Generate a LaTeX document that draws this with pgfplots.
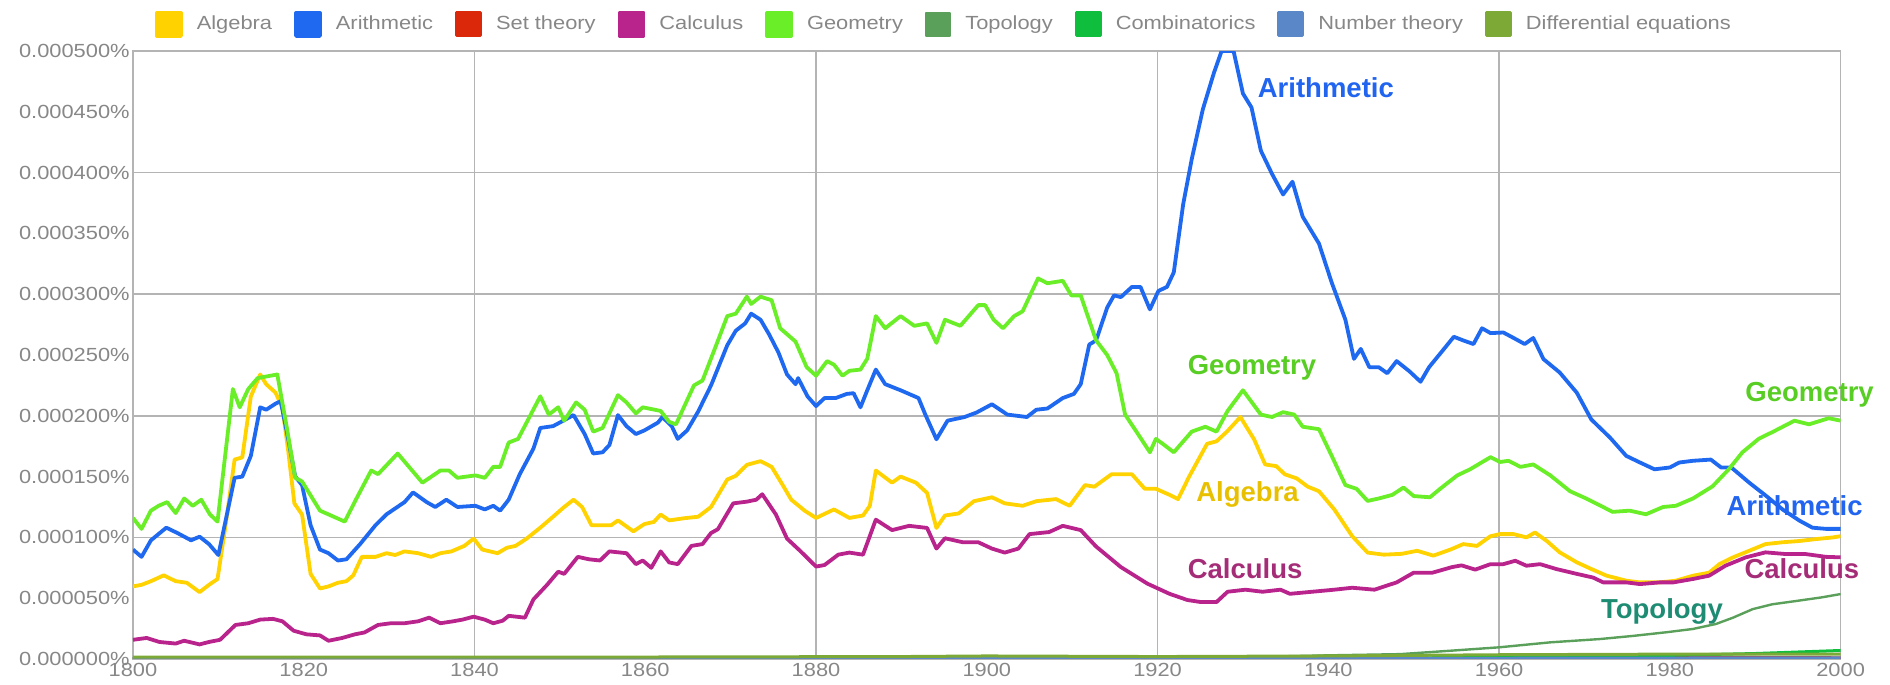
\documentclass[border=0pt]{standalone}
\usepackage{fontspec}
\setmainfont{Liberation Sans}
\newfontfamily\tickfont{Liberation Sans}[FakeStretch=1.15]
\usepackage{pgfplots}
\pgfplotsset{compat=1.18}

\definecolor{calgebra}{RGB}{255,210,0}
\definecolor{carith}{RGB}{30,105,240}
\definecolor{cset}{RGB}{220,40,10}
\definecolor{ccalc}{RGB}{185,35,140}
\definecolor{cgeom}{RGB}{105,238,40}
\definecolor{ctopo}{RGB}{90,160,90}
\definecolor{ccomb}{RGB}{15,190,60}
\definecolor{cnum}{RGB}{90,135,200}
\definecolor{cdiff}{RGB}{125,170,55}
\definecolor{tickgray}{RGB}{135,135,135}
\definecolor{gridgray}{RGB}{180,180,180}
\definecolor{lab-arith}{RGB}{32,100,240}
\definecolor{lab-geom}{RGB}{88,205,35}
\definecolor{lab-alg}{RGB}{232,192,0}
\definecolor{lab-calc}{RGB}{165,45,120}
\definecolor{lab-topo}{RGB}{30,140,115}

\begin{document}
\begin{tikzpicture}
\begin{axis}[
  name=ax, at={(0,0)}, anchor=south west,
  scale only axis, width=853.8pt, height=304pt,
  xmin=1800, xmax=2000, ymin=0, ymax=500,
  clip mode=individual,
  xtick={1800,1820,...,2000},
  ytick={0,50,...,500},
  yticklabels={0.000000\%,0.000050\%,0.000100\%,0.000150\%,0.000200\%,0.000250\%,0.000300\%,0.000350\%,0.000400\%,0.000450\%,0.000500\%},
  /pgf/number format/1000 sep={},
  /pgf/number format/assume math mode=true,
  tick label style={font=\tickfont\fontsize{9.5}{11}\selectfont, text=tickgray},
  yticklabel style={inner sep=0pt, xshift=-1.5pt},
  xticklabel style={inner sep=0pt, yshift=-2pt},
  major tick length=0pt,
  axis line style={draw=gridgray, line width=0.8pt},
  extra x ticks={1840,1880,1920,1960}, extra x tick labels={},
  extra y ticks={100,200,300,400}, extra y tick labels={},
  extra tick style={grid=major, major grid style={draw=gridgray, line width=0.75pt}},
  legend columns=9,
  legend style={at={(axis description cs:0,1)}, anchor=west, xshift=11pt, yshift=13.3pt,
    draw=none, fill=none, inner sep=0pt, outer sep=0pt,
    font=\tickfont\fontsize{9.5}{11}\selectfont, text=tickgray,
    /tikz/every even column/.append style={column sep=11pt},
    /tikz/every odd column/.append style={column sep=7pt},
    nodes={inner sep=0pt}},
  legend image code/.code={\fill[#1] (0pt,-5.75pt) rectangle (12pt,5.75pt);},
  every axis plot/.append style={line join=round},
]
% Algebra
\addplot[color=calgebra, line width=1.9pt] coordinates {
(1800,59.7)(1801,61)(1802.1,64)(1803.6,68.8)(1805.0,64)(1806.3,62.7)(1807.8,55)(1808.9,61)(1809.9,65.8)
(1810.9,112.7)(1811.9,164)(1812.8,165.8)(1813.8,215.8)(1814.9,234)(1815.6,226)(1816.7,219)(1817.5,206.7)
(1818.2,170)(1818.9,128)(1819.8,118.8)(1820.8,70)(1821.9,58)(1822.9,59.7)(1824.0,62.7)(1825.0,64)(1825.8,68.8)
(1826.8,84)(1828.4,84)(1829.7,87)(1830.7,85.5)(1831.8,88.5)(1833.4,87)(1834.9,84)(1836.0,87)(1837.3,88.5)
(1838.8,93)(1839.9,99)(1840.9,90)(1842.7,87)(1843.8,91.5)(1844.8,93)(1846.1,99)(1847.7,108)(1849.2,117)
(1850.5,125)(1851.6,131)(1852.6,125)(1853.7,110)(1854.7,110)(1856.0,110)(1856.8,114)(1858.6,105)(1859.9,111)
(1861.0,112.7)(1861.8,118.8)(1862.8,114)(1864.6,115.8)(1866.2,117)(1867.7,125)(1869.6,147.6)(1870.6,150.6)
(1871.9,159.7)(1873.5,162.7)(1874.8,158)(1876.1,143)(1877.1,131)(1878.7,121.8)(1880.0,116)(1882.1,123)
(1883.9,116)(1885.5,118)(1886.3,126)(1887.0,155)(1888.9,145)(1889.9,150)(1891.7,145)(1893.0,136.6)
(1894.1,107.8)(1895.1,118)(1896.7,119.7)(1898.5,129.8)(1900.6,133)(1902.1,128)(1904.2,126)(1905.8,129.8)
(1908.1,131.5)(1909.7,126)(1911.5,143)(1912.6,141.7)(1914.6,151.9)(1917.0,151.9)(1918.5,140)(1919.8,140)
(1921.4,135)(1922.4,131.5)(1923.7,150)(1925.8,177)(1926.9,179)(1928.2,187.5)(1929.7,199)(1931.3,180.7)
(1932.6,160)(1933.9,158.6)(1934.9,151.9)(1936.3,148.5)(1937.6,141.7)(1938.9,138)(1940.7,123)(1942.8,101)
(1944.6,87.5)(1946.5,85.8)(1948.6,86.5)(1950.4,89)(1952.3,85)(1954.3,90)(1955.8,94.5)(1957.4,93)(1959.0,101)
(1960.1,102.7)(1961.7,102.7)(1963.2,100)(1964.2,104)(1965.6,97)(1967.1,87.7)(1969.1,79.5)(1970.8,74)
(1972.6,68.5)(1974.9,64.4)(1976.5,63)(1978.8,63)(1980.7,64.4)(1982.7,68.5)(1984.6,71)(1985.8,78)(1987.4,83.6)
(1989.3,89)(1991.2,94.5)(1993.2,96)(1995.1,97)(1997.1,98.6)(1999.1,100)(2000,101)};
\addlegendentry{Algebra}
% Arithmetic
\addplot[color=carith, line width=1.9pt] coordinates {
(1800,90)(1801,84)(1802.1,97.6)(1803.9,108)(1805.2,103.6)(1806.8,97.6)(1807.8,100.6)(1808.9,94.5)(1810.0,85.5)
(1811.9,149)(1812.8,150)(1813.8,167)(1814.9,207)(1815.6,205)(1816.7,210)(1817.3,212)(1818.2,180)(1819.0,150)
(1819.8,143)(1820.8,110)(1821.9,90)(1822.9,87)(1824.0,81)(1825.0,82)(1826.6,94.5)(1828.4,110)(1829.7,119)
(1831.8,129)(1832.8,137)(1834.4,129)(1835.4,125)(1836.7,131)(1838.0,125)(1840.1,126)(1841.2,123)(1842.2,126)
(1843.0,122)(1844.0,131)(1845.3,152)(1846.9,173)(1847.7,190)(1849.2,191.5)(1850.0,194.5)(1851.6,200.6)
(1852.9,185)(1853.9,169)(1855.0,170)(1855.8,176)(1856.8,200.6)(1857.8,191.5)(1858.9,185)(1859.9,188)
(1861.5,194.5)(1862.0,199)(1863.1,191.5)(1863.8,181)(1864.9,188)(1866.2,203.6)(1867.7,225)(1869.6,258)
(1870.6,270)(1871.7,276)(1872.4,284)(1873.5,279)(1874.5,267)(1875.6,252)(1876.6,234)(1877.6,226)(1877.9,231)
(1879.0,216)(1880.0,208)(1881.0,214.6)(1882.3,214.6)(1883.6,218)(1884.4,218.6)(1885.2,207)(1886.0,221)
(1887.0,238)(1888.1,226)(1889.9,221)(1892.0,214.6)(1892.8,201)(1894.1,180.7)(1895.4,196)(1897.4,199)
(1898.8,202.7)(1900.6,209.5)(1902.4,201)(1904.7,199)(1905.8,205)(1907.1,206)(1908.9,214.6)(1910.2,218)
(1911.0,226)(1912.0,258.6)(1912.8,262)(1914.1,289)(1914.9,299)(1915.7,297.6)(1917.0,306)(1918.0,306)
(1919.1,287.5)(1920.1,302.7)(1921.1,306)(1921.9,318)(1923.0,374)(1924.0,411)(1925.3,452)(1926.6,482)
(1927.5,500)(1928.9,500)(1930.0,465)(1931.0,453.6)(1932.1,418)(1933.4,399)(1934.7,382)(1935.8,392.5)
(1937.0,363.7)(1938.9,341.7)(1940.4,309.5)(1942.0,279)(1943.0,246.8)(1943.8,255)(1944.8,240)(1945.9,240)
(1946.9,235)(1948.0,245)(1949.5,236.6)(1950.8,228)(1951.8,240)(1953.2,252)(1954.7,265)(1955.8,262)
(1957.0,259)(1958.0,272)(1959.0,268)(1960.5,268.5)(1961.7,264)(1963.0,259)(1964.0,264)(1965.2,246.6)
(1967.1,235.6)(1969.1,219)(1970.8,197)(1973.0,182)(1974.9,167)(1976.5,161.6)(1978.2,156)(1980.0,157.5)
(1981.1,161.6)(1982.7,163)(1984.8,164)(1986.0,157.5)(1987.2,157.5)(1989.3,145)(1991.3,134)(1993.2,123)
(1995.2,113.7)(1996.7,108)(1998.3,107)(2000,107)};
\addlegendentry{Arithmetic}
% Set theory
\addplot[color=cset, line width=1.5pt] coordinates {
(1800,0)(1950,0.2)(1958,1.5)(1965,2.5)(1972,2)(1980,1.5)(2000,1)};
\addlegendentry{Set theory}
% Calculus
\addplot[color=ccalc, line width=1.9pt] coordinates {
(1800,15.8)(1801.6,17.3)(1803.1,14)(1805.0,12.7)(1806.0,15)(1807.8,12)(1808.9,14)(1810.2,15.8)(1812.0,28)
(1813.5,29.4)(1814.9,32.4)(1816.4,33)(1817.5,31)(1818.8,23.3)(1820.3,20.3)(1821.9,19.4)(1822.9,15)(1824.5,17.3)
(1826.0,20.3)(1827.1,21.8)(1828.7,28)(1830.2,29.4)(1831.8,29.4)(1833.4,31)(1834.7,34)(1836.0,29.4)(1837.5,31)
(1838.6,32.4)(1839.9,34.8)(1841.2,32.4)(1842.2,29.4)(1843.3,31.5)(1844.0,35.5)(1845.9,34)(1846.9,49)(1848.5,61)
(1849.8,71.8)(1850.5,70)(1852.1,84)(1853.4,82)(1854.7,81)(1855.8,88.5)(1857.8,87)(1858.9,78)(1859.7,81)
(1860.7,75)(1861.8,88.5)(1862.8,79.4)(1863.8,78)(1865.4,93)(1866.7,94.5)(1867.7,103.6)(1868.5,106.7)
(1870.3,128)(1871.9,129.4)(1873.0,131)(1873.7,135.5)(1875.3,118.8)(1876.6,99)(1878.2,88.5)(1880.0,76)
(1881.0,77.3)(1882.6,85.8)(1883.9,87.5)(1885.5,85.8)(1887.0,114.6)(1888.9,106)(1890.9,109.5)(1893.0,107.8)
(1894.1,90.8)(1895.1,99.3)(1897.2,96)(1899.0,96)(1900.6,90.8)(1902.1,87.5)(1903.7,90.8)(1905.0,102.7)
(1907.3,104.4)(1908.9,109.5)(1911.0,106)(1912.8,92.5)(1915.7,75.6)(1918.8,62)(1921.4,53.6)(1923.5,48.5)
(1925.1,46.8)(1926.9,46.8)(1928.2,55.3)(1930.3,57)(1932.3,55.3)(1934.4,57)(1935.5,53.6)(1938.1,55.3)
(1940.7,57)(1942.8,58.6)(1945.4,57)(1948.0,63)(1950.0,71)(1952.2,71)(1954.5,75.6)(1955.6,77)(1957.2,73.5)
(1959.0,78)(1960.5,78)(1961.9,80.8)(1963.2,76.7)(1964.8,78)(1966.7,74)(1969.1,70)(1971.0,67)(1972.2,63)
(1974.9,63)(1976.5,61.6)(1978.8,63)(1980.4,63)(1982.7,65.8)(1984.6,68.5)(1986.5,76.7)(1988.9,83.6)
(1991.2,87.7)(1993.6,86.3)(1995.9,86.3)(1998.3,84)(2000,83.6)};
\addlegendentry{Calculus}
% Geometry
\addplot[color=cgeom, line width=1.9pt] coordinates {
(1800,116)(1801,107)(1802.1,122)(1803.0,126)(1804.0,129)(1805.0,120)(1806.0,132)(1807.0,126)(1808.0,131)
(1809.0,119)(1809.9,113)(1811.7,222)(1812.5,207)(1813.5,222)(1814.6,231)(1816.9,234)(1818.0,191)(1819.0,149)
(1819.8,146)(1821.9,122)(1824.8,113)(1826.1,131)(1827.9,155)(1828.7,152)(1831.0,169)(1833.9,145)(1836.0,155)
(1837.0,155)(1838.0,149)(1840.1,151)(1841.2,149)(1842.2,158)(1843.0,158)(1844.0,178)(1845.1,181)(1847.7,216)
(1848.7,201)(1849.8,207)(1850.5,196)(1851.9,211)(1852.9,205)(1853.9,187)(1855.0,190)(1856.8,217)(1857.8,211)
(1858.9,202)(1859.7,207)(1861.8,204)(1862.8,195)(1863.6,193)(1865.7,225)(1866.7,229)(1868.3,258)(1869.6,282)
(1870.6,284)(1871.9,298)(1872.4,292)(1873.5,298)(1874.8,295)(1875.8,272)(1877.6,261)(1878.9,240)(1880.0,233)
(1881.3,245)(1882.1,242)(1883.1,233)(1883.9,237)(1885.2,238)(1886.0,247)(1887.0,282)(1888.1,272)(1889.9,282)
(1891.5,274)(1893.0,276)(1894.1,260)(1895.1,279)(1896.9,274)(1899.0,291)(1899.8,291)(1900.8,279)(1901.9,272)
(1903.2,282)(1904.2,286)(1906.0,313)(1907.1,309)(1908.9,311)(1909.9,299)(1911.0,299)(1912.8,262)(1914.1,250)
(1915.2,235)(1916.2,201)(1917.8,184)(1919.1,170)(1919.8,181)(1920.6,177)(1921.9,170)(1924.0,187)(1925.6,191)
(1926.9,187)(1928.2,204)(1930.0,221)(1932.1,201)(1933.4,199)(1934.7,203)(1936.0,201)(1937.0,191)(1938.9,189)
(1940.4,167)(1942.0,143)(1943.3,140)(1944.6,130)(1945.9,132)(1947.5,135)(1948.8,141)(1950.0,134)(1951.9,133)
(1953.1,140)(1955.1,151)(1956.6,156)(1959.0,166)(1960.1,162)(1961.1,163)(1962.5,158)(1964.0,160)(1966.0,151)
(1968.3,138)(1970.2,132)(1973.3,121)(1975.3,122)(1977.2,119)(1979.2,125)(1980.7,126)(1982.7,132)(1985.0,142)
(1986.9,156)(1988.5,170)(1990.4,181)(1992.4,188)(1994.6,196)(1996.3,193)(1998.6,198)(2000,196)};
\addlegendentry{Geometry}
% Topology
\addplot[color=ctopo, line width=1.2pt] coordinates {
(1800,0.5)(1850,0.5)(1900,0.8)(1920,1)(1930,1.5)(1940,3)(1948.4,4)(1954.3,6.8)(1960,9.6)(1966,13.7)
(1971.8,16.4)(1975.7,19)(1979.6,22)(1982.7,24.7)(1985.4,28.8)(1987.4,34)(1989.7,41)(1992,45)(1995.1,48)
(1997.8,50.7)(2000,53.4)};
\addlegendentry{Topology}
% Combinatorics
\addplot[color=ccomb, line width=1.5pt] coordinates {
(1800,0)(1940,0.3)(1960,1.5)(1980,3)(1990,4.5)(2000,7)};
\addlegendentry{Combinatorics}
% Number theory
\addplot[color=cnum, line width=1.5pt] coordinates {
(1800,0.3)(1950,0.5)(2000,1)};
\addlegendentry{Number theory}
% Differential equations
\addplot[color=cdiff, line width=1.5pt] coordinates {
(1800,1.5)(1850,1.5)(1890,2)(1900,2.5)(1920,2)(1940,2.5)(1960,3.5)(1980,4)(2000,4)};
\addlegendentry{Differential equations}

\begin{scope}[every node/.style={font=\bfseries\fontsize{13.75}{15}\selectfont, inner sep=0pt, anchor=base west}]
\node[text=lab-arith] at (axis cs:1931.7,462) {Arithmetic};
\node[text=lab-geom] at (axis cs:1923.5,233.6) {Geometry};
\node[text=lab-alg] at (axis cs:1924.5,129.6) {Algebra};
\node[text=lab-calc] at (axis cs:1923.5,66.3) {Calculus};
\node[text=lab-geom] at (axis cs:1988.8,211.8) {Geometry};
\node[text=lab-arith] at (axis cs:1986.6,117.7) {Arithmetic};
\node[text=lab-calc] at (axis cs:1988.7,66.3) {Calculus};
\node[text=lab-topo] at (axis cs:1971.9,33.6) {Topology};
\end{scope}
\end{axis}
\pgfresetboundingbox
\path[use as bounding box] ([shift={(-66.5pt,-13pt)}]ax.south west) rectangle ([shift={(878.5pt,329.5pt)}]ax.south west);
\end{tikzpicture}
\end{document}
